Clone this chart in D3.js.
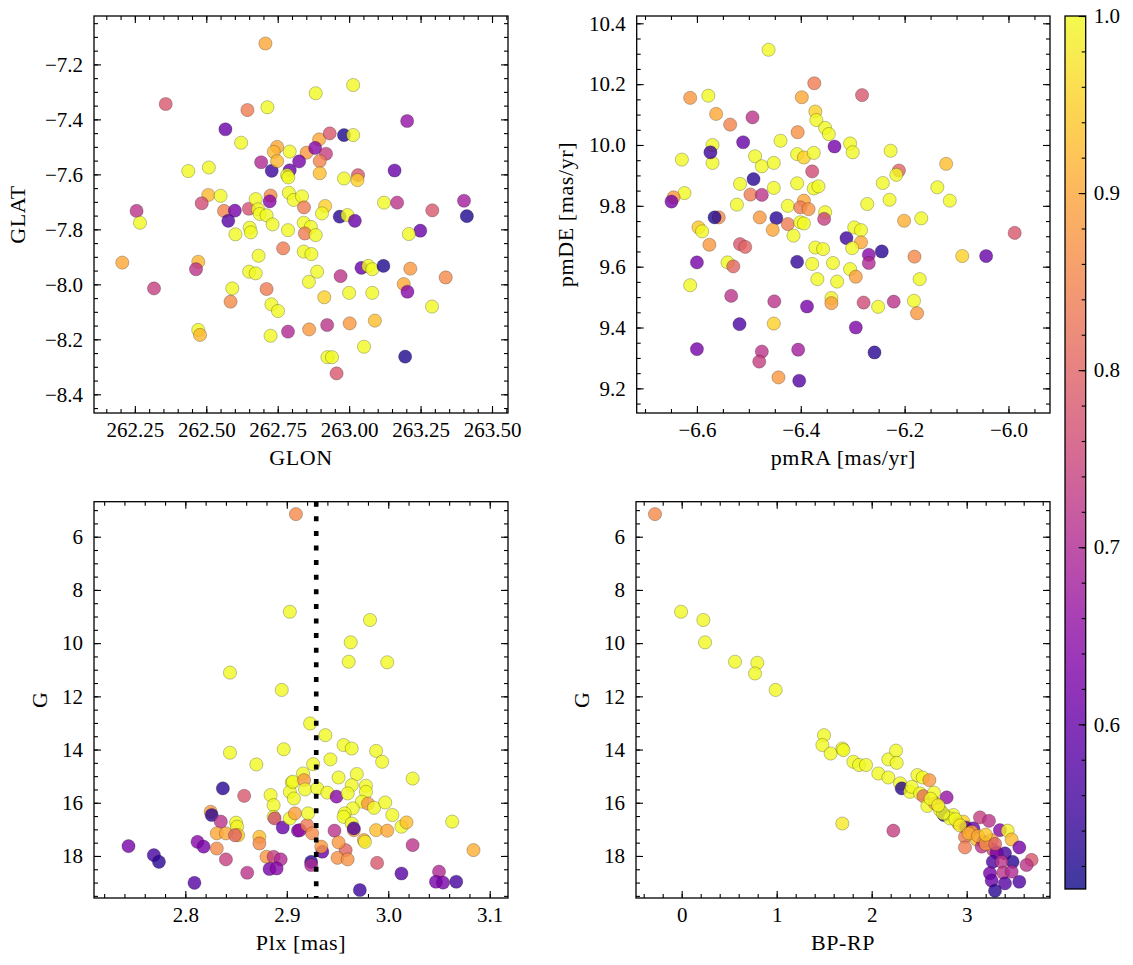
<!DOCTYPE html>
<html><head><meta charset="utf-8">
<script src="https://cdn.jsdelivr.net/npm/d3@7"></script>
<style>
body{margin:0;background:#fff}
svg text{font-family:"Liberation Serif","Times New Roman",serif;fill:#000;font-size:21px}
svg text.title{font-size:22px;letter-spacing:0.6px}
.tick line{stroke:#000;stroke-width:1.1}
</style>
</head><body><svg id="c" width="1133" height="965"></svg>
<script>
// ---------- Panel 1: GLON vs GLAT ----------
const p1Glon=[262.707,262.358,262.644,262.714,262.567,262.622,262.437,262.509,262.692,262.729,
262.748,262.736,262.792,262.851,262.895,262.932,262.982,263.014,262.881,262.919,
262.897,262.748,262.825,262.792,262.783,262.787,262.897,262.982,263.031,263.029,
263.159,262.507,262.550,262.484,262.562,262.600,262.577,262.649,262.673,262.725,
262.722,262.789,262.806,262.835,262.842,262.916,262.905,262.681,262.687,262.711,
262.732,262.652,262.656,262.602,262.786,262.841,262.866,262.845,262.883,262.967,
262.994,263.020,263.122,263.168,262.769,262.683,262.841,262.868,262.650,262.673,
262.888,262.859,262.970,263.043,263.067,263.081,263.120,262.591,262.711,263.000,
263.081,262.913,262.256,262.268,262.206,262.472,262.464,262.317,262.585,262.472,
262.478,262.728,262.751,262.725,262.786,262.883,263.014,263.203,263.402,263.291,
263.412,263.249,263.209,263.214,263.338,263.191,263.204,263.290,262.860,262.923,
263.002,263.090,263.052,262.924,262.940,263.196,262.956];
const p1Glat=[-7.124,-7.344,-7.366,-7.356,-7.436,-7.485,-7.588,-7.575,-7.556,-7.587,
-7.500,-7.518,-7.517,-7.521,-7.473,-7.451,-7.457,-7.457,-7.504,-7.525,
-7.552,-7.552,-7.553,-7.585,-7.603,-7.611,-7.596,-7.615,-7.603,-7.621,
-7.586,-7.675,-7.678,-7.705,-7.733,-7.732,-7.769,-7.725,-7.690,-7.677,
-7.698,-7.667,-7.693,-7.680,-7.720,-7.715,-7.742,-7.727,-7.744,-7.749,
-7.782,-7.794,-7.811,-7.818,-7.803,-7.776,-7.791,-7.815,-7.821,-7.754,
-7.748,-7.769,-7.703,-7.703,-7.869,-7.896,-7.881,-7.890,-7.954,-7.960,
-7.954,-7.991,-7.970,-7.940,-7.933,-7.945,-7.933,-8.015,-8.017,-8.031,
-8.031,-8.047,-7.733,-7.776,-7.921,-7.918,-7.945,-8.015,-8.063,-8.166,
-8.184,-8.073,-8.097,-8.187,-8.172,-7.305,-7.275,-7.406,-7.696,-7.731,
-7.752,-7.805,-7.817,-7.943,-7.975,-7.999,-8.027,-8.081,-8.164,-8.148,
-8.142,-8.132,-8.227,-8.265,-8.265,-8.263,-8.324];
const p1Prob=[0.90,0.78,0.84,1.00,0.60,1.00,1.00,1.00,0.70,0.55,
0.90,0.92,1.00,0.88,0.90,0.78,0.52,1.00,0.64,0.74,
0.85,0.92,0.62,0.60,1.00,1.00,0.93,1.00,0.78,0.95,
0.60,0.92,1.00,0.76,0.85,0.62,0.58,0.77,1.00,0.86,
0.64,1.00,1.00,1.00,0.84,0.95,1.00,1.00,1.00,1.00,
1.00,1.00,1.00,1.00,1.00,1.00,1.00,0.84,1.00,0.53,
1.00,0.60,1.00,0.72,0.84,1.00,1.00,1.00,1.00,1.00,
1.00,1.00,0.72,0.60,1.00,1.00,0.52,1.00,0.84,1.00,
1.00,0.95,0.72,1.00,0.90,0.92,0.72,0.74,0.86,1.00,
0.92,1.00,1.00,1.00,0.70,1.00,1.00,0.66,0.68,0.78,
0.52,0.60,1.00,0.88,0.86,0.90,0.64,1.00,0.88,0.72,
0.88,0.93,1.00,1.00,1.00,0.52,0.78];

// ---------- Panel 2: pmRA vs pmDE ----------
const p2PmRA=[-6.462,-6.374,-6.613,-6.578,-6.563,-6.536,-6.493,-6.398,-6.372,-6.370,
-6.353,-6.346,-6.406,-6.439,-6.511,-6.335,-6.629,-6.570,-6.570,-6.574,
-6.488,-6.475,-6.452,-6.407,-6.394,-6.375,-6.491,-6.517,-6.452,-6.407,
-6.378,-6.375,-6.366,-6.497,-6.475,-6.624,-6.645,-6.649,-6.523,-6.425,
-6.394,-6.401,-6.385,-6.353,-6.355,-6.558,-6.566,-6.479,-6.447,-6.454,
-6.425,-6.401,-6.394,-6.414,-6.597,-6.590,-6.576,-6.517,-6.507,-6.372,
-6.357,-6.600,-6.541,-6.530,-6.407,-6.378,-6.338,-6.613,-6.368,-6.330,
-6.534,-6.451,-6.388,-6.341,-6.341,-6.518,-6.452,-6.600,-6.475,-6.480,
-6.405,-6.443,-6.403,-6.282,-6.305,-6.300,-6.227,-6.120,-6.211,-6.216,
-6.242,-6.137,-6.113,-6.229,-6.272,-6.201,-6.168,-6.297,-6.284,-6.312,
-6.284,-6.301,-5.988,-6.269,-6.244,-6.269,-6.181,-6.089,-6.043,-6.305,
-6.294,-6.171,-6.279,-6.251,-6.221,-6.182,-6.176,-6.294,-6.258];
const p2PmDE=[10.313,10.203,10.155,10.162,10.102,10.067,10.091,10.157,10.110,10.082,
10.056,10.036,10.042,10.014,10.009,9.995,9.952,10.000,9.941,9.976,
9.963,9.930,9.941,9.970,9.959,9.974,9.888,9.872,9.859,9.874,
9.913,9.857,9.864,9.837,9.836,9.842,9.828,9.814,9.804,9.800,
9.817,9.795,9.789,9.779,9.757,9.762,9.762,9.762,9.760,9.721,
9.740,9.746,9.742,9.702,9.729,9.716,9.672,9.674,9.665,9.663,
9.658,9.614,9.614,9.601,9.616,9.609,9.612,9.539,9.559,9.551,
9.504,9.486,9.469,9.497,9.480,9.411,9.413,9.329,9.321,9.288,
9.327,9.236,9.225,10.164,10.005,9.976,9.981,9.938,9.916,9.902,
9.875,9.861,9.817,9.820,9.806,9.751,9.759,9.729,9.720,9.694,
9.680,9.661,9.711,9.639,9.650,9.612,9.633,9.635,9.635,9.592,
9.567,9.559,9.482,9.468,9.485,9.488,9.447,9.400,9.318];
const p2Prob=[1.00,0.84,0.88,1.00,0.90,0.85,0.72,0.90,0.95,1.00,
1.00,1.00,0.87,1.00,0.60,0.62,1.00,1.00,1.00,0.55,
1.00,1.00,1.00,1.00,0.95,1.00,0.53,1.00,1.00,1.00,
0.76,1.00,1.00,0.84,0.72,1.00,0.88,0.62,1.00,1.00,
0.90,0.84,0.87,1.00,0.74,0.86,0.52,0.88,0.53,0.90,
0.84,1.00,1.00,1.00,0.94,1.00,0.88,0.78,0.80,1.00,
1.00,0.62,1.00,0.80,0.54,1.00,1.00,1.00,1.00,1.00,
0.72,0.72,0.62,0.99,0.89,0.57,0.95,0.62,0.72,0.74,
0.68,0.88,0.58,0.78,1.00,1.00,1.00,0.93,0.80,1.00,
1.00,1.00,1.00,1.00,1.00,0.91,1.00,1.00,1.00,0.55,
0.90,1.00,0.78,0.64,0.53,0.70,0.86,0.95,0.60,1.00,
0.89,1.00,0.76,1.00,0.72,1.00,0.88,0.63,0.53];

// ---------- Panel 3: Plx vs G ----------
const p3Plx=[2.909,2.903,2.844,2.895,2.844,2.897,2.870,2.837,2.858,2.884,
2.887,2.905,2.903,2.907,2.825,2.826,2.835,2.850,2.851,2.852,
2.831,2.840,2.849,2.887,2.888,2.896,2.903,2.908,2.911,2.744,
2.769,2.774,2.812,2.818,2.831,2.873,2.873,2.840,2.861,2.809,
2.880,2.887,2.894,2.883,2.890,2.982,2.963,2.961,2.999,2.923,
2.938,2.956,2.964,2.988,2.994,2.943,2.926,2.916,2.906,2.917,
2.918,2.930,2.940,2.951,2.969,2.964,2.978,2.949,2.960,2.978,
2.974,2.980,2.986,2.997,3.024,2.965,2.957,2.956,2.964,2.966,
2.966,3.004,3.013,3.018,2.988,2.999,2.976,2.977,3.063,3.084,
3.024,2.989,3.013,3.050,3.047,3.054,3.067,2.972,2.947,2.958,
2.951,2.950,2.960,2.935,2.934,2.924,2.924,2.913,2.920,2.925,2.921];
const p3G=[5.15,8.82,11.11,11.76,14.12,13.99,14.56,15.46,15.74,15.71,
16.09,15.24,15.59,15.84,16.34,16.46,16.71,16.75,16.90,17.22,
17.15,17.15,17.22,16.53,16.59,16.93,16.59,16.40,17.05,17.63,
17.97,18.22,17.47,17.65,17.72,17.28,17.53,18.13,18.63,19.01,
18.03,18.03,18.13,18.49,18.47,9.13,9.97,10.70,10.72,13.02,
13.46,13.83,13.96,14.05,14.46,14.37,14.55,14.90,15.21,15.15,
15.50,15.46,15.62,15.05,14.92,15.34,15.36,15.77,15.65,15.59,
15.96,16.03,16.19,15.99,15.09,16.21,16.40,16.53,16.78,17.03,
16.96,16.46,16.90,16.74,17.03,17.05,17.40,17.47,16.71,17.78,
17.59,18.26,18.66,18.59,18.97,19.00,18.97,19.28,17.05,17.78,
17.49,18.07,18.13,17.84,17.65,18.22,18.34,17.03,16.84,17.15,16.40];
const p3Prob=[0.86,1.00,1.00,1.00,1.00,1.00,1.00,0.53,0.78,1.00,
1.00,1.00,1.00,1.00,0.88,0.53,0.72,1.00,0.99,0.94,
0.90,0.90,0.80,1.00,0.76,0.60,1.00,0.89,0.62,0.62,
0.56,0.53,0.64,0.62,0.86,0.93,0.86,0.74,0.72,0.58,
0.88,0.74,0.70,0.62,0.64,1.00,1.00,1.00,1.00,1.00,
1.00,1.00,1.00,1.00,1.00,1.00,1.00,1.00,1.00,0.88,
1.00,1.00,1.00,1.00,1.00,1.00,1.00,0.64,1.00,1.00,
1.00,0.88,1.00,1.00,1.00,1.00,1.00,1.00,1.00,0.88,
0.57,1.00,1.00,0.93,0.93,0.90,0.90,0.99,1.00,0.91,
0.72,0.78,0.58,0.70,0.62,0.62,0.56,0.55,0.72,0.80,
0.88,0.87,0.87,0.60,0.88,0.53,0.70,0.66,0.84,0.86,1.00];
const plxRef=[2.929];

// ---------- Panel 4: BP-RP vs G ----------
const p4BpRp=[-0.281,-0.007,0.228,0.246,0.561,0.796,0.772,0.989,1.498,1.481,
1.568,1.691,1.702,1.807,1.867,1.691,1.940,2.175,2.256,2.263,
2.070,2.175,2.299,2.316,2.403,2.481,2.537,2.607,2.421,2.509,
2.544,2.656,2.789,2.586,2.666,2.719,2.761,2.859,2.824,2.912,
2.965,2.993,3.070,3.140,3.235,2.982,3.053,3.105,3.175,3.158,
2.982,3.350,3.431,3.473,3.554,3.263,3.280,3.403,3.315,3.274,
3.484,3.683,3.630,3.368,3.245,3.385,3.263,3.403,3.554,3.298,
2.228,3.473,2.750,2.880,2.930,3.020,3.120,3.200,3.300,3.200,2.620,2.700];
const p4G=[5.15,8.82,9.13,9.97,10.70,10.74,11.14,11.76,13.46,13.83,
14.15,13.96,14.02,14.46,14.58,16.78,14.58,14.37,14.04,14.50,
14.90,15.05,15.27,15.46,15.59,14.96,15.05,15.15,15.40,15.65,
15.75,15.62,15.80,16.12,16.02,16.27,16.46,16.46,16.59,16.78,
16.71,16.93,16.96,16.55,16.68,17.28,17.09,17.38,17.46,17.65,
17.68,17.03,17.05,17.38,17.68,17.40,17.78,17.90,17.88,18.22,
18.22,18.15,18.34,18.22,18.65,18.63,18.93,19.03,18.97,19.31,
17.05,18.59,16.40,16.62,16.85,17.15,17.25,17.55,17.55,17.20,15.85,16.10];
const p4Prob=[0.86,1.00,1.00,1.00,1.00,1.00,1.00,1.00,1.00,1.00,
1.00,1.00,1.00,1.00,1.00,0.98,1.00,1.00,1.00,1.00,
1.00,1.00,1.00,0.53,1.00,1.00,1.00,0.88,1.00,1.00,
0.82,1.00,0.66,1.00,0.89,1.00,0.53,1.00,1.00,0.93,
0.95,0.57,0.60,0.74,0.72,0.84,0.90,0.93,0.60,0.72,
0.84,0.64,0.99,0.92,0.62,0.88,0.76,0.56,0.62,0.57,
0.53,0.78,0.72,0.72,0.62,0.72,0.60,0.58,0.57,0.53,
0.74,0.70,1.00,1.00,0.98,0.91,0.90,0.88,0.80,0.94,1.00,0.99];

// ---------- Ticks ----------
const p1XTicks=[262.25,262.5,262.75,263.0,263.25,263.5];
const p1YTicks=[-8.4,-8.2,-8.0,-7.8,-7.6,-7.4,-7.2];
const p2XTicks=[-6.6,-6.4,-6.2,-6.0];
const p2YTicks=[9.2,9.4,9.6,9.8,10.0,10.2,10.4];
const p3XTicks=[2.8,2.9,3.0,3.1];
const gTicks=[6,8,10,12,14,16,18];
const p4XTicks=[0,1,2,3];
const cbTicks=[0.6,0.7,0.8,0.9,1.0];
const cbDomain=[0.507,1.0];

const svg=d3.select("#c");
svg.append("rect").attr("width",1133).attr("height",965).attr("fill","#fff");
const color=d3.scaleSequential(d3.interpolatePlasma).domain(cbDomain);

function minorTicks(dom,step){
  const lo=Math.min(...dom),hi=Math.max(...dom);
  const out=[];
  for(let k=Math.ceil(lo/step-1e-9);k*step<=hi+1e-9;k++) out.push(+(k*step).toFixed(6));
  return out;
}

const panels=[
 {xs:p1Glon,ys:p1Glat,cs:p1Prob,L:94,R:508,T:16,B:413,xd:[262.107,263.556],yd:[-8.468,-7.024],
  xt:p1XTicks,yt:p1YTicks,xm:0.05,ym:0.05,xf:".2f",yf:".1f",xl:"GLON",yl:"GLAT",ylx:25},
 {xs:p2PmRA,ys:p2PmDE,cs:p2Prob,L:636.7,R:1050,T:16,B:413,xd:[-6.716,-5.92],yd:[9.119,10.424],
  xt:p2XTicks,yt:p2YTicks,xm:0.05,ym:0.05,xf:".1f",yf:".1f",xl:"pmRA [mas/yr]",yl:"pmDE [mas/yr]",ylx:572.5},
 {xs:p3Plx,ys:p3G,cs:p3Prob,L:94,R:508,T:501.7,B:898,xd:[2.710,3.118],yd:[19.58,4.684],
  xt:p3XTicks,yt:gTicks,xm:0.02,ym:0.5,xf:".1f",yf:"d",xl:"Plx [mas]",yl:"G",ylx:47,vline:plxRef},
 {xs:p4BpRp,ys:p4G,cs:p4Prob,L:636,R:1050,T:501.7,B:898,xd:[-0.481,3.877],yd:[19.58,4.684],
  xt:p4XTicks,yt:gTicks,xm:0.2,ym:0.5,xf:"d",yf:"d",xl:"BP-RP",yl:"G",ylx:588.5}
];

panels.forEach(P=>{
  const x=d3.scaleLinear().domain(P.xd).range([P.L,P.R]);
  const y=d3.scaleLinear().domain(P.yd).range([P.B,P.T]);
  const g=svg.append("g");
  const clipId="clip"+Math.round(P.L)+"_"+Math.round(P.T);
  svg.append("clipPath").attr("id",clipId).append("rect")
    .attr("x",P.L).attr("y",P.T).attr("width",P.R-P.L).attr("height",P.B-P.T);
  const pts=g.append("g").attr("clip-path",`url(#${clipId})`);
  const data=P.xs.map((v,i)=>({x:v,y:P.ys[i],c:P.cs[i]}));
  pts.selectAll("circle").data(data).join("circle")
    .attr("cx",d=>x(d.x)).attr("cy",d=>y(d.y)).attr("r",6.6)
    .attr("fill",d=>color(d.c)).attr("fill-opacity",0.8)
    .attr("stroke","#000").attr("stroke-opacity",0.4).attr("stroke-width",0.6);
  if(P.vline){
    pts.selectAll("line.vl").data(P.vline).join("line").attr("class","vl")
      .attr("x1",d=>x(d)).attr("x2",d=>x(d)).attr("y1",P.T).attr("y2",P.B)
      .attr("stroke","#000").attr("stroke-width",4.6).attr("stroke-dasharray","5,9.6");
  }
  const xMin=minorTicks(P.xd,P.xm), yMin=minorTicks(P.yd,P.ym);
  const add=(axis,tr)=>{
    const a=g.append("g").attr("transform",tr).call(axis);
    a.select(".domain").remove();
    a.attr("font-family",null).attr("font-size",null);
    return a;
  };
  add(d3.axisBottom(x).tickValues(P.xt).tickSizeInner(-7).tickSizeOuter(0).tickPadding(9).tickFormat(d3.format(P.xf)),`translate(0,${P.B})`);
  add(d3.axisBottom(x).tickValues(xMin).tickSizeInner(-4).tickSizeOuter(0).tickFormat(""),`translate(0,${P.B})`);
  add(d3.axisTop(x).tickValues(P.xt).tickSizeInner(-7).tickSizeOuter(0).tickFormat(""),`translate(0,${P.T})`);
  add(d3.axisTop(x).tickValues(xMin).tickSizeInner(-4).tickSizeOuter(0).tickFormat(""),`translate(0,${P.T})`);
  add(d3.axisLeft(y).tickValues(P.yt).tickSizeInner(-7).tickSizeOuter(0).tickPadding(11).tickFormat(d3.format(P.yf)),`translate(${P.L},0)`);
  add(d3.axisLeft(y).tickValues(yMin).tickSizeInner(-4).tickSizeOuter(0).tickFormat(""),`translate(${P.L},0)`);
  add(d3.axisRight(y).tickValues(P.yt).tickSizeInner(-7).tickSizeOuter(0).tickFormat(""),`translate(${P.R},0)`);
  add(d3.axisRight(y).tickValues(yMin).tickSizeInner(-4).tickSizeOuter(0).tickFormat(""),`translate(${P.R},0)`);
  g.append("rect").attr("x",P.L).attr("y",P.T).attr("width",P.R-P.L).attr("height",P.B-P.T)
    .attr("fill","none").attr("stroke","#000").attr("stroke-width",1.3);
  g.append("text").attr("class","title").attr("x",(P.L+P.R)/2).attr("y",P.B+52).attr("text-anchor","middle").text(P.xl);
  g.append("text").attr("class","title").attr("transform",`translate(${P.ylx},${(P.T+P.B)/2}) rotate(-90)`)
    .attr("text-anchor","middle").text(P.yl);
});

// ---------- Colorbar ----------
const cbL=1065,cbR=1085.7,cbT=16,cbB=889;
const defs=svg.append("defs");
const grad=defs.append("linearGradient").attr("id","cbg").attr("x1",0).attr("y1",1).attr("x2",0).attr("y2",0);
d3.range(0,1.0001,0.05).forEach(t=>grad.append("stop").attr("offset",t).attr("stop-color",d3.interpolatePlasma(t)));
svg.append("rect").attr("x",cbL).attr("y",cbT).attr("width",cbR-cbL).attr("height",cbB-cbT)
  .attr("fill","url(#cbg)").attr("fill-opacity",0.8);
const cy=d3.scaleLinear().domain(cbDomain).range([cbB,cbT]);
const cbA=svg.append("g").attr("transform",`translate(${cbR},0)`)
  .call(d3.axisRight(cy).tickValues(cbTicks).tickSizeInner(-7).tickSizeOuter(0).tickPadding(8).tickFormat(d3.format(".1f")));
cbA.select(".domain").remove(); cbA.attr("font-family",null).attr("font-size",null);
const cbM=svg.append("g").attr("transform",`translate(${cbR},0)`)
  .call(d3.axisRight(cy).tickValues(minorTicks(cbDomain,0.02)).tickSizeInner(-4).tickSizeOuter(0).tickFormat(""));
cbM.select(".domain").remove();
svg.append("rect").attr("x",cbL).attr("y",cbT).attr("width",cbR-cbL).attr("height",cbB-cbT)
  .attr("fill","none").attr("stroke","#000").attr("stroke-width",1.3);
</script></body></html>
